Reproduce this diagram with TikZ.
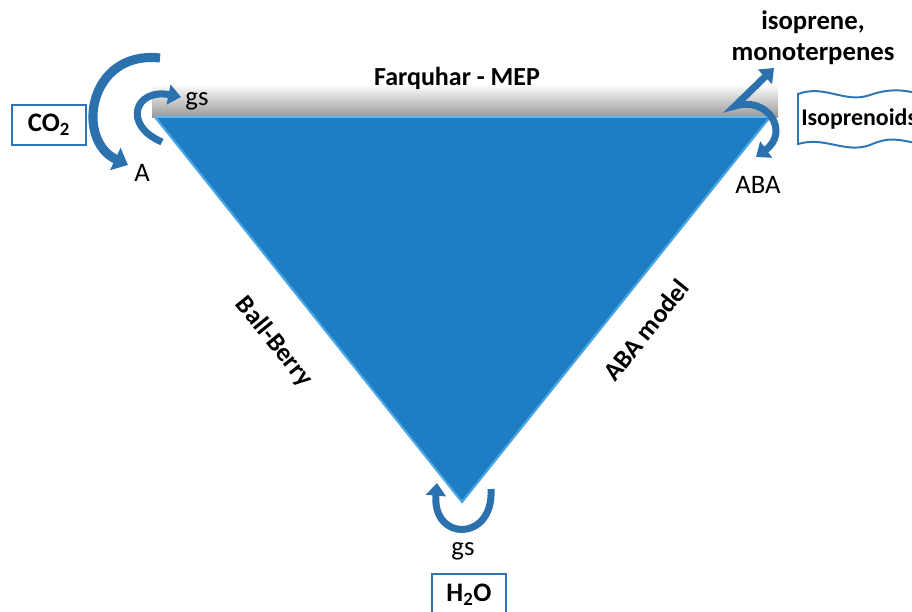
\documentclass[tikz,border=0pt]{standalone}
\usepackage{fontspec}
\setmainfont{Carlito}
\usetikzlibrary{arrows.meta,positioning,shadings}

\definecolor{triblue}{HTML}{1F7EC3}
\definecolor{edgeblue}{HTML}{5BB8F2}
\definecolor{fluxblue}{HTML}{2A71AE}
\definecolor{boxblue}{HTML}{2E75B6}

\tikzset{
  lbl/.style={font=\fontsize{19}{21}\selectfont, inner sep=0pt},
  boldlbl/.style={font=\fontsize{18.5}{21}\selectfont\bfseries, inner sep=0pt},
  gasbox/.style={draw=boxblue, line width=1.4pt, fill=white,
    font=\fontsize{19}{20}\selectfont\bfseries, minimum width=53pt, minimum height=29pt},
  flux/.style={fluxblue, line width=6.5pt, -{Triangle[width=17pt,length=10pt]}},
  smallflux/.style={fluxblue, line width=5pt, -{Triangle[width=14pt,length=9pt]}},
}

\begin{document}
\begin{tikzpicture}[x=0.025cm,y=-0.025cm]
        \useasboundingbox (0,0) rectangle (912,611);
        % shadow band above the triangle
        \shade[top color=white, bottom color=black!40] (152,84) rectangle (778,117);
        % the triangle
        \coordinate (tl) at (155,117);
        \coordinate (tr) at (770,117);
        \coordinate (bt) at (462,502);
        \fill[triblue] (tl) -- (tr) -- (bt) -- cycle;
        \draw[edgeblue!70!triblue, line width=1.5pt] (tl) -- (bt) -- (tr);
        \draw[edgeblue, line width=2pt] (tl) -- (tr);

        % edge labels
        \node[boldlbl] (farq) at (457,78) {Farquhar - MEP};
        \node[boldlbl, rotate=-51] (bb) at (274,342) {Ball-Berry};
        \node[boldlbl, rotate=51] (abam) at (646,330) {ABA model};

        % corner labels
        \node[lbl] (gstop) at (197,101) {gs};
        \node[lbl] (alab) at (142,173) {A};
        \node[lbl] (abalab) at (758,185) {ABA};
        \node[lbl] (gsbot) at (463,551) {gs};
        \node[boldlbl, align=center, font=\fontsize{19}{22}\selectfont\bfseries] (iso) at (813,38) {isoprene,\\monoterpenes};

        % gas boxes
        \node[gasbox] (co2) at (49,125) {CO\textsubscript{2}};
        \node[gasbox, anchor=north] (h2o) at (469,573) {H\textsubscript{2}O};
        \draw[boxblue, line width=1.4pt, fill=white]
          (798,94) .. controls (825,84) and (845,104) .. (870,95)
          .. controls (890,88) and (905,90) .. (920,94) -- (920,144)
          .. controls (900,140) and (890,136) .. (870,145)
          .. controls (845,154) and (825,136) .. (798,144) -- cycle;
        \node[boldlbl, anchor=west, font=\fontsize{17}{20}\selectfont\bfseries] (isop) at (801,119) {Isoprenoids};

        % fluxes
        \coordinate (co2in) at (160,58);
        \coordinate (aend) at (128,165);
        \coordinate (gsstart) at (162,142);
        \coordinate (gsend) at (181,97);
        \coordinate (ubend) at (735,106);
        \coordinate (isoend) at (774,68);
        \coordinate (abaend) at (756,157);
        \coordinate (wstart) at (491,489);
        \coordinate (wend) at (437,483);
        \draw[flux] (co2in) .. controls (88,50) and (75,140) .. (aend);
        \draw[smallflux] (gsstart) .. controls (122,125) and (135,88) .. (gsend);
        \draw[smallflux, {Triangle[width=14pt,length=9pt]}-{Triangle[width=14pt,length=9pt]}]
          (isoend) -- (ubend) .. controls (768,96) and (790,132) .. (abaend);
        \draw[smallflux] (wstart) .. controls (494,542) and (432,542) .. (wend);
\end{tikzpicture}
\end{document}
